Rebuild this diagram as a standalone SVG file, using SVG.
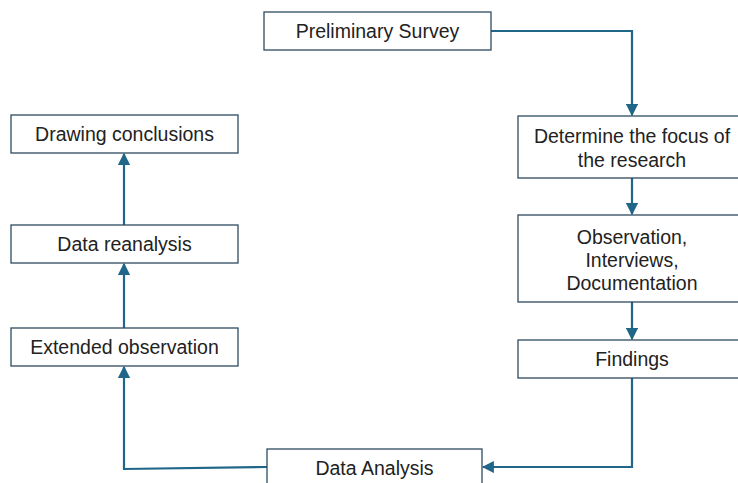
<svg xmlns="http://www.w3.org/2000/svg" width="738" height="483" viewBox="0 0 738 483">
<defs>
<style>
.box{fill:#fff;stroke:#2f4b60;stroke-width:1.3}
.t{font-family:"Liberation Sans",Arial,sans-serif;font-size:19.5px;fill:#222;text-anchor:middle}
.c{fill:none;stroke:#1f6689;stroke-width:2.2}
</style>
<marker id="ah" viewBox="0 0 10 10" refX="9" refY="5" markerWidth="5.5" markerHeight="5.5" markerUnits="strokeWidth" orient="auto">
<path d="M0,0 L10,5 L0,10 z" fill="#1f6689"/>
</marker>
</defs>
<rect width="738" height="483" fill="#fff"/>
<g id="connectors">
<path class="c" d="M491,31 H632 V115" marker-end="url(#ah)"/>
<path class="c" d="M632,178 V214" marker-end="url(#ah)"/>
<path class="c" d="M632,302 V339" marker-end="url(#ah)"/>
<path class="c" d="M632,378 V467 H483" marker-end="url(#ah)"/>
<path class="c" d="M267,467 L124,469 V367" marker-end="url(#ah)"/>
<path class="c" d="M124,328 V264" marker-end="url(#ah)"/>
<path class="c" d="M124,225 V154" marker-end="url(#ah)"/>
</g>
<g id="preliminary-survey">
<rect class="box" x="264" y="12" width="227" height="38"/>
<text class="t" x="377.5" y="38">Preliminary Survey</text>
</g>
<g id="determine-focus">
<rect class="box" x="518" y="116" width="228" height="62"/>
<text class="t" x="632" y="143">Determine the focus of</text>
<text class="t" x="632" y="167">the research</text>
</g>
<g id="observation">
<rect class="box" x="518" y="215" width="228" height="87"/>
<text class="t" x="632" y="244">Observation,</text>
<text class="t" x="632" y="267">Interviews,</text>
<text class="t" x="632" y="290">Documentation</text>
</g>
<g id="findings">
<rect class="box" x="518" y="340" width="228" height="38"/>
<text class="t" x="632" y="366">Findings</text>
</g>
<g id="data-analysis">
<rect class="box" x="267" y="449" width="215" height="40"/>
<text class="t" x="374.5" y="475">Data Analysis</text>
</g>
<g id="extended-observation">
<rect class="box" x="11" y="328" width="227" height="38"/>
<text class="t" x="124.5" y="354">Extended observation</text>
</g>
<g id="data-reanalysis">
<rect class="box" x="11" y="225" width="227" height="38"/>
<text class="t" x="124.5" y="251">Data reanalysis</text>
</g>
<g id="drawing-conclusions">
<rect class="box" x="11" y="115" width="227" height="38"/>
<text class="t" x="124.5" y="141">Drawing conclusions</text>
</g>
</svg>
